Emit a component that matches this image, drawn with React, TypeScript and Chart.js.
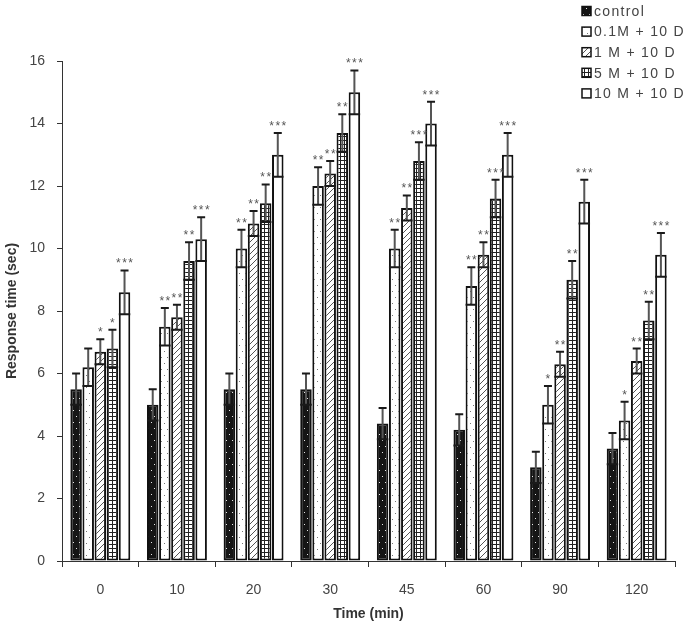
import React, { useEffect, useRef } from "react";
import { Chart, registerables } from "chart.js";

Chart.register(...registerables);

const categories = ["0", "10", "20", "30", "45", "60", "90", "120"];
const seriesNames = ["control", "0.1M + 10 D", "1 M + 10 D", "5 M + 10 D", "10 M + 10 D"];

const controlVals = [5.5, 5.0, 5.5, 5.5, 4.4, 4.2, 3.0, 3.6];
const controlErr = [0.5, 0.5, 0.5, 0.5, 0.5, 0.5, 0.5, 0.5];
const m01Vals = [6.2, 7.5, 10.0, 12.0, 10.0, 8.8, 5.0, 4.5];
const m01Err = [0.6, 0.6, 0.6, 0.6, 0.6, 0.6, 0.6, 0.6];
const m1Vals = [6.7, 7.8, 10.8, 12.4, 11.3, 9.8, 6.3, 6.4];
const m1Err = [0.4, 0.4, 0.4, 0.4, 0.4, 0.4, 0.4, 0.4];
const m5Vals = [6.8, 9.6, 11.45, 13.7, 12.8, 11.6, 9.0, 7.7];
const m5Err = [0.6, 0.6, 0.6, 0.6, 0.6, 0.6, 0.6, 0.6];
const m10Vals = [8.6, 10.3, 13.0, 15.0, 14.0, 13.0, 11.5, 9.8];
const m10Err = [0.7, 0.7, 0.7, 0.7, 0.7, 0.7, 0.7, 0.7];

const controlStars = ["", "", "", "", "", "", "", ""];
const m01Stars = ["", "**", "**", "**", "**", "**", "*", "*"];
const m1Stars = ["*", "**", "**", "**", "**", "**", "**", "**"];
const m5Stars = ["*", "**", "**", "**", "***", "***", "**", "**"];
const m10Stars = ["***", "***", "***", "***", "***", "***", "***", "***"];

const yTicks = [0, 2, 4, 6, 8, 10, 12, 14, 16];

function makeTile(w: number, h: number, draw: (c: CanvasRenderingContext2D) => void) {
  const cv = document.createElement("canvas");
  cv.width = w;
  cv.height = h;
  const c = cv.getContext("2d")!;
  draw(c);
  return cv;
}

function makePatterns(ctx: CanvasRenderingContext2D) {
  const dotsDark = makeTile(6, 12, (c) => {
    c.fillStyle = "#151515";
    c.fillRect(0, 0, 6, 12);
    c.fillStyle = "#e8e8e8";
    c.fillRect(1, 2, 1, 1);
    c.fillRect(4, 8, 1, 1);
  });
  const dotsLight = makeTile(6, 12, (c) => {
    c.fillStyle = "#ffffff";
    c.fillRect(0, 0, 6, 12);
    c.fillStyle = "#777";
    c.fillRect(2, 3, 1, 1);
    c.fillRect(5, 9, 1, 1);
  });
  const diag = makeTile(6, 6, (c) => {
    c.fillStyle = "#ffffff";
    c.fillRect(0, 0, 6, 6);
    c.strokeStyle = "#555";
    c.lineWidth = 1;
    c.beginPath();
    c.moveTo(0, 6);
    c.lineTo(6, 0);
    c.moveTo(-1, 1);
    c.lineTo(1, -1);
    c.moveTo(5, 7);
    c.lineTo(7, 5);
    c.stroke();
  });
  const grid = makeTile(4, 4, (c) => {
    c.fillStyle = "#ffffff";
    c.fillRect(0, 0, 4, 4);
    c.fillStyle = "#222";
    c.fillRect(0, 0, 4, 1);
    c.fillRect(0, 0, 1, 4);
  });
  return [
    ctx.createPattern(dotsDark, "repeat")!,
    ctx.createPattern(dotsLight, "repeat")!,
    ctx.createPattern(diag, "repeat")!,
    ctx.createPattern(grid, "repeat")!,
    "#ffffff",
  ];
}

export default function App() {
  const ref = useRef<HTMLCanvasElement | null>(null);

  useEffect(() => {
    const canvas = ref.current!;
    const ctx = canvas.getContext("2d")!;
    const fills = makePatterns(ctx);
    const values = [controlVals, m01Vals, m1Vals, m5Vals, m10Vals];
    const errs = [controlErr, m01Err, m1Err, m5Err, m10Err];
    const stars = [controlStars, m01Stars, m1Stars, m5Stars, m10Stars];

    const errorPlugin = {
      id: "errbars",
      afterDatasetsDraw(chart: any) {
        const c = chart.ctx;
        const y = chart.scales.y;
        c.save();
        chart.data.datasets.forEach((ds: any, di: number) => {
          const meta = chart.getDatasetMeta(di);
          meta.data.forEach((bar: any, i: number) => {
            const v = values[di][i];
            const e = errs[di][i];
            const x = bar.x;
            const w = bar.width;
            const yTop = y.getPixelForValue(v + e);
            const yLow = y.getPixelForValue(v - e);
            c.strokeStyle = "#555";
            c.lineWidth = 2;
            c.beginPath();
            c.moveTo(x, yTop);
            c.lineTo(x, yLow);
            c.stroke();
            c.strokeStyle = "#1a1a1a";
            c.lineWidth = 2;
            c.beginPath();
            c.moveTo(x - 4, yTop);
            c.lineTo(x + 4, yTop);
            c.moveTo(x - w / 2, yLow);
            c.lineTo(x + w / 2, yLow);
            c.stroke();
            const s = stars[di][i];
            if (s) {
              c.fillStyle = "#555";
              c.font = "12px Arial, 'Liberation Sans', sans-serif";
              (c as any).letterSpacing = "1.5px";
              c.textAlign = "center";
              c.textBaseline = "alphabetic";
              c.fillText(s, x + 0.75, yTop - 3);
              (c as any).letterSpacing = "0px";
            }
          });
        });
        c.restore();
      },
      afterDraw(chart: any) {
        const c = chart.ctx;
        c.save();
        const x0 = 582;
        const y0 = 11;
        const step = 20.6;
        seriesNames.forEach((name, i) => {
          const cy = y0 + i * step;
          c.fillStyle = fills[i] as any;
          c.fillRect(x0, cy - 4.5, 9, 9);
          c.strokeStyle = "#111";
          c.lineWidth = 1.5;
          c.strokeRect(x0, cy - 4.5, 9, 9);
          c.fillStyle = "#444";
          c.font = "14px Arial, 'Liberation Sans', sans-serif";
          (c as any).letterSpacing = "1.3px";
          c.textAlign = "left";
          c.textBaseline = "middle";
          c.fillText(name, x0 + 12, cy + 1);
          (c as any).letterSpacing = "0px";
        });
        c.restore();
      },
    };

    const chart = new Chart(canvas, {
      type: "bar",
      data: {
        labels: categories,
        datasets: values.map((vals, i) => ({
          label: seriesNames[i],
          data: vals,
          backgroundColor: fills[i] as any,
          borderColor: "#111",
          borderWidth: 2,
          borderSkipped: false,
          categoryPercentage: 0.79,
          barPercentage: 0.95,
        })),
      },
      options: {
        responsive: false,
        animation: false,
        devicePixelRatio: 1,
        layout: { padding: { left: 0, right: 17, top: 61, bottom: 0 } },
        plugins: {
          legend: { display: false },
          tooltip: { enabled: false },
        },
        scales: {
          x: {
            offset: true,
            grid: {
              offset: true,
              drawOnChartArea: false,
              drawTicks: true,
              tickLength: 6,
              color: "#333",
              lineWidth: 1,
            },
            border: { color: "#333", width: 1 },
            ticks: {
              color: "#444",
              font: { family: "Arial, 'Liberation Sans', sans-serif", size: 14 },
              padding: 15,
              maxRotation: 0,
            },
            title: {
              display: true,
              text: "Time (min)",
              color: "#333",
              font: { family: "Arial, 'Liberation Sans', sans-serif", size: 14, weight: "bold" },
              padding: { top: 2, bottom: 9 },
            },
            afterFit(scale: any) {
              scale.height = 71;
            },
          },
          y: {
            min: 0,
            max: 16,
            afterBuildTicks(scale: any) {
              scale.ticks = yTicks.map((v) => ({ value: v }));
            },
            grid: {
              drawOnChartArea: false,
              drawTicks: true,
              tickLength: 5,
              color: "#333",
            },
            border: { color: "#333", width: 1 },
            ticks: {
              color: "#444",
              font: { family: "Arial, 'Liberation Sans', sans-serif", size: 14 },
              padding: 12,
            },
            title: {
              display: true,
              text: "Response time (sec)",
              color: "#333",
              font: { family: "Arial, 'Liberation Sans', sans-serif", size: 14, weight: "bold" },
              padding: { top: 4, bottom: 0 },
            },
            afterFit(scale: any) {
              scale.width = 62;
            },
          },
        },
      },
      plugins: [errorPlugin],
    });
    return () => chart.destroy();
  }, []);

  return (
    <div style={{ position: "absolute", left: 0, top: 0, width: 692, height: 632, background: "#fff" }}>
      <canvas ref={ref} width={692} height={632} style={{ display: "block" }} />
    </div>
  );
}
